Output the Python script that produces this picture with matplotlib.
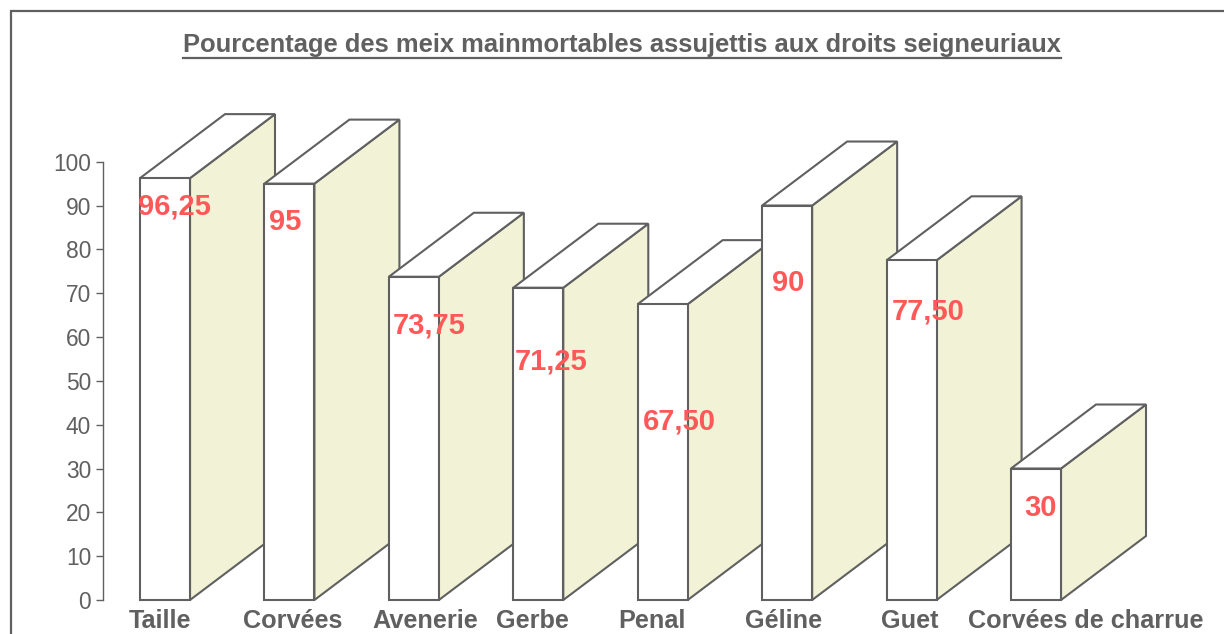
import matplotlib
matplotlib.use("Agg")
import matplotlib.pyplot as plt
from matplotlib.patches import Polygon, Rectangle
from matplotlib.lines import Line2D

# ---- data ----
categories = ["Taille", "Corvées", "Avenerie", "Gerbe", "Penal", "Géline", "Guet", "Corvées de charrue"]
values = [96.25, 95, 73.75, 71.25, 67.50, 90, 77.50, 30]
value_labels = ["96,25", "95", "73,75", "71,25", "67,50", "90", "77,50", "30"]
yticks = [0, 10, 20, 30, 40, 50, 60, 70, 80, 90, 100]
title = "Pourcentage des meix mainmortables assujettis aux droits seigneuriaux"

# ---- layout (manually placed labels in the original) ----
label_baseline = [87.95, 84.5, 60.9, 52.5, 39.0, 70.5, 63.9, 19.2]  # data units
label_dx_px = [-2, 5, 4, 1, 5, 10, 5, 13]
cat_dx_px = [-5, 3, 11, -6, -11, -4, -2, 50]

W, H = 1224, 634
DPI = 100
GRAY = "#606060"
SIDE = "#F2F2D6"
RED = "#FF5858"
FONT = "Liberation Sans"

fig = plt.figure(figsize=(W / DPI, H / DPI), dpi=DPI)
fig.patch.set_facecolor("white")

px_per_unit_y = 4.383
px_per_cat = 124.43
ax_left_px, ax_bottom_px, ax_top_px = 103, 600, 90
ax = fig.add_axes([ax_left_px / W, (H - ax_bottom_px) / H, (W - ax_left_px) / W,
                   (ax_bottom_px - ax_top_px) / H])
ymax = (ax_bottom_px - ax_top_px) / px_per_unit_y
xmin = -(165 - ax_left_px) / px_per_cat
xmax = xmin + (W - ax_left_px) / px_per_cat
ax.set_xlim(xmin, xmax)
ax.set_ylim(0, ymax)
ax.patch.set_alpha(0)

bw = 50 / px_per_cat
ddx = 85 / px_per_cat
ddy = 64 / px_per_unit_y
lw = 1.5

for i, v in enumerate(values):
    x0 = i - bw / 2
    x1 = i + bw / 2
    z = 2 + i
    side = Polygon([(x1, 0), (x1 + ddx, ddy), (x1 + ddx, v + ddy), (x1, v)],
                   closed=True, fc=SIDE, ec=GRAY, lw=lw, zorder=z, clip_on=False,
                   joinstyle="miter")
    top = Polygon([(x0, v), (x1, v), (x1 + ddx, v + ddy), (x0 + ddx, v + ddy)],
                  closed=True, fc="white", ec=GRAY, lw=lw, zorder=z, clip_on=False,
                  joinstyle="miter")
    front = Rectangle((x0, 0), bw, v, fc="white", ec=GRAY, lw=lw, zorder=z,
                      clip_on=False, joinstyle="miter")
    ax.add_patch(side)
    ax.add_patch(top)
    ax.add_patch(front)

for i, (lab, yb) in enumerate(zip(value_labels, label_baseline)):
    ax.annotate(lab, xy=(i - bw / 2, yb), xytext=(label_dx_px[i] * 72 / DPI, 0),
                textcoords="offset points", ha="left", va="baseline",
                color=RED, fontsize=21, fontweight="bold", family=FONT,
                zorder=50, annotation_clip=False)

for i, cat in enumerate(categories):
    ax.annotate(cat, xy=(i, 0), xytext=(cat_dx_px[i] * 72 / DPI, -28.5 * 72 / DPI),
                textcoords="offset points", ha="center", va="baseline",
                color=GRAY, fontsize=18.2, fontweight="bold", family=FONT,
                annotation_clip=False)

# axes styling
for s in ["top", "right", "bottom"]:
    ax.spines[s].set_visible(False)
ax.spines["left"].set_bounds(0, 100)
ax.spines["left"].set_color(GRAY)
ax.spines["left"].set_linewidth(1.0)
ax.set_xticks([])
ax.set_yticks(yticks)
ax.set_yticklabels([str(t) for t in yticks])
ax.tick_params(axis="y", direction="out", length=5, width=1.0, color=GRAY,
               labelcolor=GRAY, labelsize=16.4, pad=3.5)
for t in ax.get_yticklabels():
    t.set_family(FONT)

# frame
fig.add_artist(Rectangle((11 / W, -0.2), 1.5, (H - 11) / H + 0.2, transform=fig.transFigure,
                         fill=False, ec=GRAY, lw=1.6))

# title with underline
tt = fig.text(622 / W, (H - 52) / H, title, ha="center", va="baseline",
              fontsize=15, fontweight="bold", color=GRAY, family=FONT)
fig.canvas.draw()
bb = tt.get_window_extent()
scale = 880 / bb.width
tt.set_fontsize(15 * scale)
fig.canvas.draw()
bb = tt.get_window_extent()
fig.add_artist(Line2D([bb.x0 / W, bb.x1 / W], [(H - 57.5) / H, (H - 57.5) / H],
                      transform=fig.transFigure, color=GRAY, lw=1.6))

fig.savefig("out.png", dpi=DPI, facecolor="white")
